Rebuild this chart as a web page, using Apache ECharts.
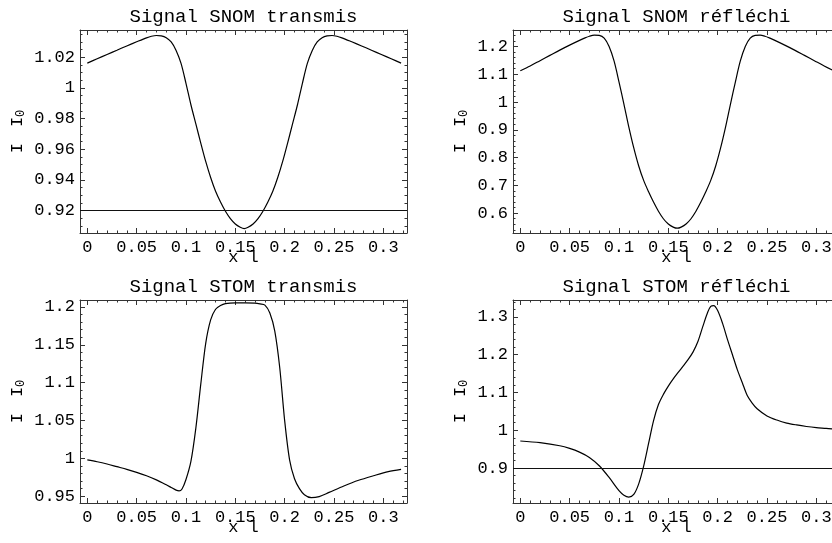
<!DOCTYPE html>
<html><head><meta charset="utf-8">
<script src="https://cdn.jsdelivr.net/npm/echarts@6/dist/echarts.min.js"></script>
<style>html,body{margin:0;padding:0;background:#fff;overflow:hidden}#c{width:832px;height:543px}</style>
</head><body><div id="c"></div>
<script>
// ---------- data ----------
const titles = ['Signal SNOM transmis', 'Signal SNOM réfléchi', 'Signal STOM transmis', 'Signal STOM réfléchi'];
const xName = 'x l';
const xTickLabels = [0, 0.05, 0.1, 0.15, 0.2, 0.25, 0.3];
const yTicks1 = [0.92, 0.94, 0.96, 0.98, 1, 1.02];
const yTicks2 = [0.6, 0.7, 0.8, 0.9, 1, 1.1, 1.2];
const yTicks3 = [0.95, 1, 1.05, 1.1, 1.15, 1.2];
const yTicks4 = [0.9, 1, 1.1, 1.2, 1.3];

const xSym = [0, 0.01, 0.02, 0.03, 0.04, 0.05, 0.06, 0.065, 0.07, 0.075, 0.08, 0.085, 0.09, 0.095, 0.1, 0.105, 0.11, 0.115, 0.12, 0.125, 0.13, 0.135, 0.14, 0.145, 0.15, 0.155, 0.159,
  0.163, 0.168, 0.173, 0.178, 0.183, 0.188, 0.193, 0.198, 0.203, 0.208, 0.213, 0.218, 0.223, 0.228, 0.233, 0.238, 0.243, 0.248, 0.253, 0.258, 0.268, 0.278, 0.288, 0.298, 0.308, 0.318];
const snomT = [1.0162, 1.0190, 1.0218, 1.0246, 1.0274, 1.0301, 1.0327, 1.0337, 1.0342, 1.0340, 1.0328, 1.0300, 1.0245, 1.0160, 1.0030, 0.9890, 0.9765, 0.9640, 0.9520, 0.9415, 0.9325, 0.9255, 0.9195, 0.9147, 0.9112, 0.9091, 0.9082,
  0.9091, 0.9112, 0.9147, 0.9195, 0.9255, 0.9325, 0.9415, 0.9520, 0.9640, 0.9765, 0.9890, 1.0030, 1.0160, 1.0245, 1.0300, 1.0328, 1.0340, 1.0342, 1.0337, 1.0327, 1.0301, 1.0274, 1.0246, 1.0218, 1.0190, 1.0162];
const snomR = [1.1125, 1.130, 1.149, 1.168, 1.187, 1.205, 1.222, 1.230, 1.237, 1.241, 1.240, 1.230, 1.200, 1.148, 1.073, 0.993, 0.910, 0.835, 0.770, 0.718, 0.677, 0.640, 0.607, 0.580, 0.561, 0.550, 0.546,
  0.550, 0.561, 0.580, 0.607, 0.640, 0.677, 0.718, 0.770, 0.835, 0.910, 0.993, 1.073, 1.148, 1.200, 1.230, 1.240, 1.241, 1.237, 1.230, 1.222, 1.205, 1.187, 1.168, 1.149, 1.130, 1.1125];

const xStomT = [0, 0.01, 0.02, 0.03, 0.04, 0.05, 0.06, 0.07, 0.08, 0.085, 0.09, 0.093, 0.096, 0.1, 0.105, 0.11, 0.115, 0.12, 0.125, 0.13, 0.135, 0.14, 0.15, 0.16, 0.17, 0.175, 0.18, 0.185, 0.19, 0.195, 0.2, 0.205, 0.21, 0.215, 0.22, 0.227, 0.235, 0.245, 0.26, 0.275, 0.29, 0.305, 0.318];
const stomT = [0.998, 0.9955, 0.9925, 0.989, 0.9855, 0.9815, 0.977, 0.9715, 0.965, 0.9615, 0.958, 0.957, 0.9595, 0.972, 0.996, 1.04, 1.098, 1.152, 1.183, 1.197, 1.202, 1.2045, 1.2055, 1.2055, 1.205, 1.204, 1.2025, 1.192, 1.168, 1.12, 1.05, 0.998, 0.973, 0.960, 0.952, 0.948, 0.9495, 0.955, 0.9635, 0.971, 0.977, 0.9825, 0.9855];

const xStomR = [0, 0.02, 0.04, 0.05, 0.06, 0.07, 0.08, 0.09, 0.1, 0.105, 0.11, 0.115, 0.12, 0.125, 0.13, 0.135, 0.14, 0.145, 0.15, 0.155, 0.16, 0.165, 0.17, 0.175, 0.18, 0.185, 0.19, 0.193, 0.196, 0.2, 0.205, 0.21, 0.215, 0.22, 0.225, 0.23, 0.235, 0.24, 0.25, 0.26, 0.27, 0.28, 0.29, 0.3, 0.31, 0.318];
const stomR = [0.9715, 0.967, 0.959, 0.952, 0.942, 0.928, 0.906, 0.875, 0.840, 0.828, 0.823, 0.830, 0.858, 0.905, 0.965, 1.025, 1.068, 1.095, 1.117, 1.136, 1.153, 1.170, 1.187, 1.207, 1.235, 1.275, 1.313, 1.328, 1.330, 1.317, 1.283, 1.240, 1.200, 1.160, 1.126, 1.092, 1.072, 1.057, 1.038, 1.027, 1.019, 1.014, 1.010, 1.007, 1.005, 1.003];

const refLines = [0.92, null, null, 0.9];

// ---------- layout / style ----------
const FONT = '"Liberation Mono", "Courier New", monospace';
const FRAME = '#333';
const W = 327, H = 203;
const XMIN = -0.0074, XMAX = 0.324;
const panels = [
  {x: xSym, y: snomT, ticks: yTicks1, minor: 0.005, ymin: 0.9053, ymax: 1.0378, left: 80, top: 30, nameGap: 53},
  {x: xSym, y: snomR, ticks: yTicks2, minor: 0.02, ymin: 0.5287, ymax: 1.2594, left: 513, top: 30, nameGap: 43},
  {x: xStomT, y: stomT, ticks: yTicks3, minor: 0.01, ymin: 0.9410, ymax: 1.2092, left: 80, top: 300, nameGap: 53},
  {x: xStomR, y: stomR, ticks: yTicks4, minor: 0.02, ymin: 0.8073, ymax: 1.345, left: 513, top: 300, nameGap: 43}
];

function fmt(v) { return String(+(+v).toFixed(4)); }
function minorList(min, max, step, majors) {
  const out = [];
  for (let k = Math.ceil(min / step - 1e-9); k * step <= max + 1e-12; k++) {
    const v = +(k * step).toFixed(6);
    if (!majors.some(m => Math.abs(m - v) < step / 10)) out.push(v);
  }
  return out;
}
const xMajorAll = minorList(XMIN, XMAX, 0.05, []);

const grids = [], xAxes = [], yAxes = [], series = [], titleOpts = [];
panels.forEach((p, i) => {
  grids.push({left: p.left, top: p.top, width: W, height: H, containLabel: false, outerBoundsMode: 'none'});
  titleOpts.push({text: titles[i], left: p.left + W / 2, top: p.top - 23, textAlign: 'center', padding: 0,
    textStyle: {fontFamily: FONT, fontSize: 19, fontWeight: 'normal', color: '#000'}});
  const xMinor = minorList(XMIN, XMAX, 0.01, xMajorAll);
  const yMajorAll = minorList(p.ymin, p.ymax, p.minor * (p.minor === 0.005 ? 4 : 5), []);
  const yMinor = minorList(p.ymin, p.ymax, p.minor, yMajorAll);
  const common = {type: 'value', gridIndex: i, splitLine: {show: false}, nameMoveOverlap: false};
  const tick = (vals, len) => ({show: true, inside: true, length: len, customValues: vals, lineStyle: {color: FRAME, width: 1}});
  const lineOn = {show: true, onZero: false, lineStyle: {color: FRAME, width: 1}};
  const lineOff = {show: false, onZero: false};
  // x axes: bottom main, bottom minor, top major, top minor
  xAxes.push(Object.assign({}, common, {min: XMIN, max: XMAX, position: 'bottom', axisLine: lineOn,
    axisTick: tick(xMajorAll, 5),
    axisLabel: {show: true, customValues: xTickLabels, formatter: fmt, fontFamily: FONT, fontSize: 17, color: '#000', margin: 6},
    name: xName, nameLocation: 'middle', nameGap: 16, nameTextStyle: {fontFamily: FONT, fontSize: 17, color: '#000'}}));
  xAxes.push(Object.assign({}, common, {min: XMIN, max: XMAX, position: 'bottom', axisLine: lineOff, axisTick: tick(xMinor, 2.5), axisLabel: {show: false}}));
  xAxes.push(Object.assign({}, common, {min: XMIN, max: XMAX, position: 'top', axisLine: lineOn, axisTick: tick(xMajorAll, 5), axisLabel: {show: false}}));
  xAxes.push(Object.assign({}, common, {min: XMIN, max: XMAX, position: 'top', axisLine: lineOff, axisTick: tick(xMinor, 2.5), axisLabel: {show: false}}));
  // y axes
  yAxes.push(Object.assign({}, common, {min: p.ymin, max: p.ymax, position: 'left', axisLine: lineOn,
    axisTick: tick(yMajorAll, 5),
    axisLabel: {show: true, customValues: p.ticks, formatter: fmt, fontFamily: FONT, fontSize: 17, color: '#000', margin: 5},
    name: '{a|I}{g| }{a|I}{b|0}', nameLocation: 'middle', nameRotate: 90, nameGap: p.nameGap,
    nameTextStyle: {fontFamily: FONT, fontSize: 17, color: '#000', rich: {
      a: {fontFamily: FONT, fontSize: 17, color: '#000'},
      g: {fontFamily: FONT, fontSize: 17, width: 16},
      b: {fontFamily: FONT, fontSize: 12, color: '#000', verticalAlign: 'bottom', padding: [7, 0, 0, 0]}
    }}}));
  yAxes.push(Object.assign({}, common, {min: p.ymin, max: p.ymax, position: 'left', axisLine: lineOff, axisTick: tick(yMinor, 2.5), axisLabel: {show: false}}));
  yAxes.push(Object.assign({}, common, {min: p.ymin, max: p.ymax, position: 'right', axisLine: lineOn, axisTick: tick(yMajorAll, 5), axisLabel: {show: false}}));
  yAxes.push(Object.assign({}, common, {min: p.ymin, max: p.ymax, position: 'right', axisLine: lineOff, axisTick: tick(yMinor, 2.5), axisLabel: {show: false}}));

  const s = {type: 'line', xAxisIndex: 4 * i, yAxisIndex: 4 * i, data: p.x.map((xv, k) => [xv, p.y[k]]),
    symbol: 'none', showSymbol: false, smooth: 0.3, lineStyle: {color: '#000', width: 1.2}, silent: true, clip: true};
  if (refLines[i] != null) {
    s.markLine = {silent: true, symbol: ['none', 'none'], label: {show: false}, animation: false,
      lineStyle: {color: '#111', width: 1, type: 'solid'}, data: [{yAxis: refLines[i]}]};
  }
  series.push(s);
});

const chart = echarts.init(document.getElementById('c'));
chart.setOption({animation: false, backgroundColor: '#fff', title: titleOpts, grid: grids, xAxis: xAxes, yAxis: yAxes, series: series});
</script></body></html>
